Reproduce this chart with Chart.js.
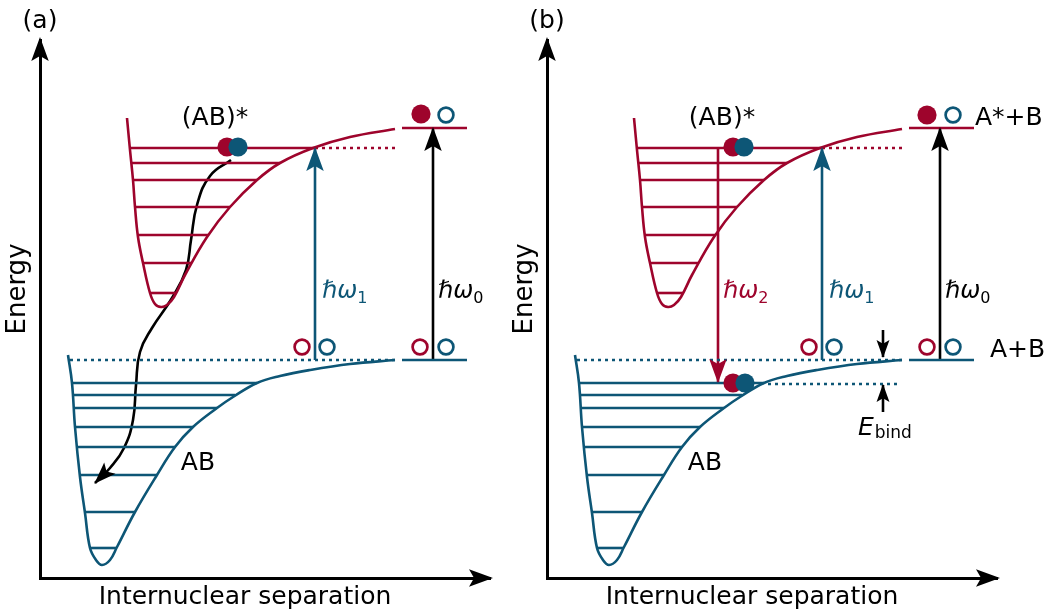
<!DOCTYPE html>
<html>
<head>
<meta charset="utf-8">
<script src="https://cdn.jsdelivr.net/npm/chart.js@4.4.0/dist/chart.umd.min.js"></script>
<style>
  html, body { margin: 0; padding: 0; background: #fff; }
  #wrap { display: flex; width: 1050px; height: 615px; }
  .panel { position: relative; height: 615px; }
  #pa { width: 507px; }
  #pb { width: 543px; }
</style>
</head>
<body>
<div id="wrap">
  <div class="panel" id="pa"><canvas id="chartA"></canvas></div>
  <div class="panel" id="pb"><canvas id="chartB"></canvas></div>
</div>
<script>
const RED = '#9e042c';
const TEAL = '#0d5676';
const FONT = "'DejaVu Sans', sans-serif";

// potential curves, internuclear separation vs energy (arb. units)
const excitedR = [87, 90, 93, 95, 98, 103, 110, 115, 121, 127, 134, 145, 167, 190, 217, 240, 273, 310, 355];
const excitedE = [460, 428, 398, 371, 341, 315, 285, 274, 271, 273, 281, 303, 341, 371, 398, 415, 430, 441, 449];
const groundR = [28, 32, 35, 40, 45, 50, 56, 62, 70, 77, 95, 117, 135, 153, 177, 193, 217, 240, 270, 310, 355];
const groundE = [223, 195, 151, 101, 65, 30, 18, 13, 18, 31, 66, 103, 131, 151, 170, 181, 195, 202, 208, 214, 218];

// vibrational levels
const excitedLevels = [430, 415, 398, 371, 343, 315, 285];
const excitedLevelFrom = [90, 91, 93, 95, 98, 103, 110];
const excitedLevelTo = [275, 240, 217, 190, 168, 152, 136];
const groundLevels = [195, 183, 170, 151, 131, 103, 66, 30];
const groundLevelFrom = [32, 33, 34, 35, 37, 40, 45, 50];
const groundLevelTo = [217, 195, 177, 153, 135, 117, 95, 77];

// separated atoms: A*+B and A+B
const atomsR = [362, 427];
const excitedLimit = 450;
const groundLimit = 218;
const excitedDottedR = [275, 355];
const groundDottedR = [30, 355];

// photon transitions [x, from, to]
const hw0 = [393, 218, 450];
const hw1 = [275, 218, 430];
const hw2 = [171, 430, 196];

// binding energy marker (panel b)
const bindLevel = 194;
const bindDottedR = [221, 353];
const bindX = 336;

// non-radiative relaxation path (panel a)
const relaxR = [191, 170, 157, 151, 146, 132, 112, 100, 96, 93, 84, 70, 55];
const relaxE = [418, 402, 373, 338, 308, 280, 250, 226, 193, 158, 130, 110, 95];

// atoms drawn as circles
const filledRedA = [[381, 464], [187, 431]];
const filledTealA = [[198, 431]];
const filledRedB = [[380, 463], [186, 431], [186, 195]];
const filledTealB = [[197, 431], [198, 195]];
const openRed = [[262, 231], [380, 231]];
const openTeal = [[406, 463], [287, 231], [406, 231]];

function pts(xs, ys) { return xs.map((x, i) => ({ x, y: ys[i] })); }

function line(data, color, extra) {
  return Object.assign({
    type: 'scatter', showLine: true, data,
    borderColor: color, backgroundColor: color,
    borderWidth: 2.6, pointRadius: 0, pointHoverRadius: 0, order: 5
  }, extra || {});
}

function circles(list, color, filled, order) {
  return {
    type: 'scatter', showLine: false,
    data: list.map(p => ({ x: p[0], y: p[1] })),
    pointRadius: filled ? 9.6 : 7.4, pointHoverRadius: filled ? 9.6 : 7.4,
    borderWidth: filled ? 0 : 2.7,
    borderColor: color, backgroundColor: filled ? color : '#fff',
    order
  };
}

function levels(ys, from, to, color) {
  return ys.map((y, i) => line([{ x: from[i], y }, { x: to[i], y }], color));
}

function buildDatasets(panel) {
  const ds = [];
  if (panel === 'b') {
    ds.push(circles(filledTealB, TEAL, true, 0));
    ds.push(circles(filledRedB, RED, true, 1));
  } else {
    ds.push(circles(filledTealA, TEAL, true, 0));
    ds.push(circles(filledRedA, RED, true, 1));
  }
  ds.push(circles(openRed, RED, false, 0));
  ds.push(circles(openTeal, TEAL, false, 0));

  ds.push(line(pts(excitedR, excitedE), RED, { tension: 0.4 }));
  ds.push(line(pts(groundR, groundE), TEAL, { tension: 0.4 }));
  ds.push(...levels(excitedLevels, excitedLevelFrom, excitedLevelTo, RED));
  ds.push(...levels(groundLevels, groundLevelFrom, groundLevelTo, TEAL));

  ds.push(line([{ x: atomsR[0], y: excitedLimit }, { x: atomsR[1], y: excitedLimit }], RED));
  ds.push(line([{ x: atomsR[0], y: groundLimit }, { x: atomsR[1], y: groundLimit }], TEAL));
  ds.push(line([{ x: excitedDottedR[0], y: excitedLevels[0] }, { x: excitedDottedR[1], y: excitedLevels[0] }], RED, { borderDash: [3, 4] }));
  ds.push(line([{ x: groundDottedR[0], y: groundLimit }, { x: groundDottedR[1], y: groundLimit }], TEAL, { borderDash: [3, 4] }));

  ds.push(line([{ x: hw0[0], y: hw0[1] }, { x: hw0[0], y: hw0[2] }], '#000', { arrow: 23 }));
  ds.push(line([{ x: hw1[0], y: hw1[1] }, { x: hw1[0], y: hw1[2] }], TEAL, { arrow: 23 }));

  if (panel === 'b') {
    ds.push(line([{ x: hw2[0], y: hw2[1] }, { x: hw2[0], y: hw2[2] }], RED, { arrow: 23 }));
    ds.push(line([{ x: bindDottedR[0], y: bindLevel }, { x: bindDottedR[1], y: bindLevel }], TEAL, { borderDash: [3, 4] }));
    ds.push(line([{ x: bindX, y: groundLimit + 30 }, { x: bindX, y: groundLimit + 3 }], '#000', { arrow: 17 }));
    ds.push(line([{ x: bindX, y: bindLevel - 28 }, { x: bindX, y: bindLevel - 1 }], '#000', { arrow: 17 }));
  } else {
    ds.push(line(pts(relaxR, relaxE), '#000', { tension: 0.45, arrow: 21 }));
  }
  return ds;
}

function arrowHead(ctx, x, y, ang, len, color) {
  const w = len * 0.38, notch = len * 0.22;
  ctx.save();
  ctx.translate(x, y);
  ctx.rotate(ang);
  ctx.beginPath();
  ctx.moveTo(1, 0);
  ctx.lineTo(-len, w);
  ctx.lineTo(-len + notch, 0);
  ctx.lineTo(-len, -w);
  ctx.closePath();
  ctx.fillStyle = color;
  ctx.fill();
  ctx.restore();
}

function hbar(ctx, px, py, sub, color) {
  ctx.fillStyle = color;
  ctx.textAlign = 'left';
  ctx.textBaseline = 'alphabetic';
  ctx.font = 'italic 24px ' + FONT;
  ctx.fillText('ℏω', px, py);
  const w = ctx.measureText('ℏω').width;
  ctx.font = '16px ' + FONT;
  ctx.fillText(sub, px + w, py + 5);
}

const overlay = {
  id: 'overlay',
  afterDatasetsDraw(chart, args, opts) {
    const { ctx, chartArea: ca, scales: { x, y } } = chart;
    ctx.save();
    arrowHead(ctx, ca.right + 2, ca.bottom, 0, 23, '#000');
    arrowHead(ctx, ca.left, ca.top - 2, -Math.PI / 2, 23, '#000');

    chart.data.datasets.forEach((ds, i) => {
      if (!ds.arrow) return;
      const p = chart.getDatasetMeta(i).data;
      const a = p[p.length - 2], b = p[p.length - 1];
      arrowHead(ctx, b.x, b.y, Math.atan2(b.y - a.y, b.x - a.x), ds.arrow, ds.borderColor);
    });

    ctx.fillStyle = '#000';
    ctx.textBaseline = 'alphabetic';
    ctx.font = '25px ' + FONT;
    ctx.textAlign = 'center';
    ctx.fillText(opts.tag, ca.left, 28);
    ctx.fillText('Internuclear separation', ca.left + 205, 604);
    ctx.fillText('(AB)*', x.getPixelForValue(175), y.getPixelForValue(453));
    ctx.fillText('AB', x.getPixelForValue(158), y.getPixelForValue(108));
    ctx.save();
    ctx.translate(ca.left - 15, 289);
    ctx.rotate(-Math.PI / 2);
    ctx.font = '26px ' + FONT;
    ctx.fillText('Energy', 0, 0);
    ctx.restore();

    hbar(ctx, x.getPixelForValue(282), y.getPixelForValue(280), '1', TEAL);
    hbar(ctx, x.getPixelForValue(398), y.getPixelForValue(280), '0', '#000');

    if (opts.tag === '(b)') {
      hbar(ctx, x.getPixelForValue(176), y.getPixelForValue(280), '2', RED);
      ctx.fillStyle = '#000';
      ctx.textAlign = 'left';
      ctx.font = '25px ' + FONT;
      ctx.fillText('A*+B', x.getPixelForValue(428), y.getPixelForValue(453));
      ctx.fillText('A+B', x.getPixelForValue(443), y.getPixelForValue(221));
      const ex = x.getPixelForValue(311), ey = y.getPixelForValue(143);
      ctx.font = 'italic 25px ' + FONT;
      ctx.fillText('E', ex, ey);
      const w = ctx.measureText('E').width;
      ctx.font = '17px ' + FONT;
      ctx.fillText('bind', ex + w + 1, ey + 3);
    }
    ctx.restore();
  }
};

function makeChart(id, panel, rightPad) {
  return new Chart(document.getElementById(id), {
    data: { datasets: buildDatasets(panel) },
    options: {
      responsive: true,
      maintainAspectRatio: false,
      animation: false,
      events: [],
      layout: { padding: { top: 40, right: rightPad, left: 0, bottom: 0 } },
      scales: {
        x: {
          type: 'linear', min: 0, max: 450,
          grid: { display: false },
          ticks: { display: false },
          border: { display: true, color: '#000', width: 3 },
          afterFit: s => { s.height = 37; }
        },
        y: {
          type: 'linear', min: 0, max: 538,
          grid: { display: false },
          ticks: { display: false },
          border: { display: true, color: '#000', width: 3 },
          afterFit: s => { s.width = 40; }
        }
      },
      plugins: {
        legend: { display: false },
        tooltip: { enabled: false },
        overlay: { tag: panel === 'b' ? '(b)' : '(a)' }
      }
    },
    plugins: [overlay]
  });
}

makeChart('chartA', 'a', 17);
makeChart('chartB', 'b', 53);
</script>
</body>
</html>
